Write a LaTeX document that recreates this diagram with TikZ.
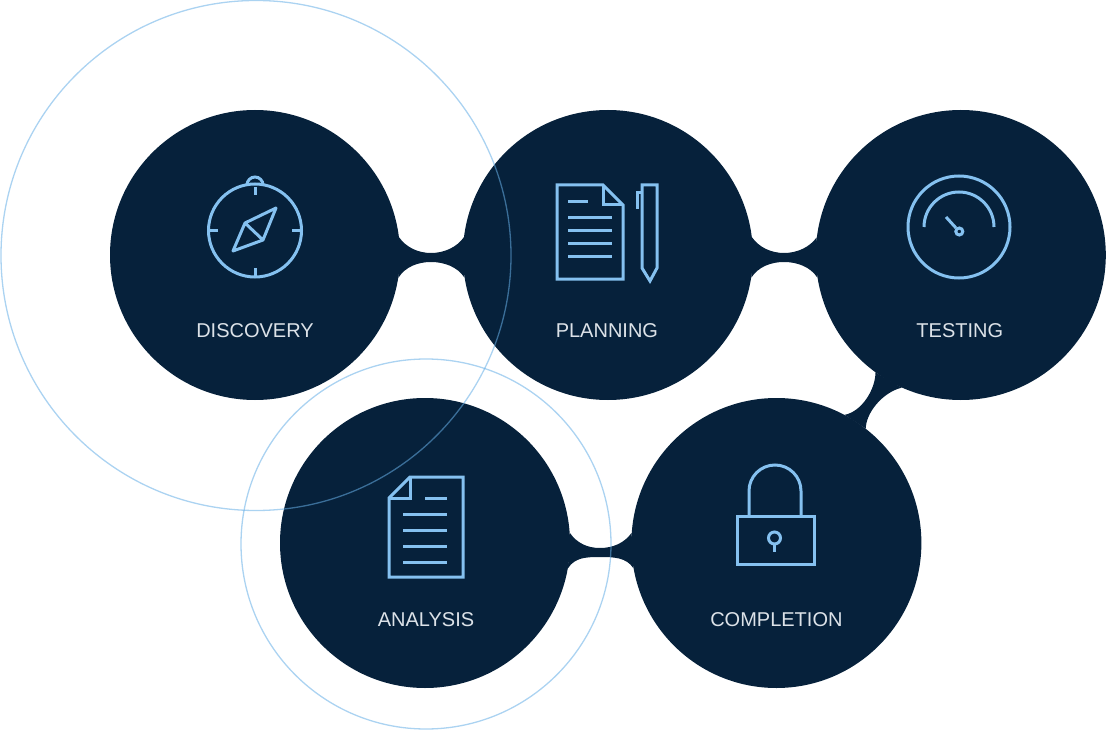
\documentclass[tikz,border=0pt]{standalone}
\usepackage{fontspec}
\setmainfont{Liberation Sans}
\usepackage{xcolor}
\usetikzlibrary{positioning}
\definecolor{stagenavy}{HTML}{06213B}
\definecolor{iconblue}{HTML}{85C1F0}
\definecolor{ringblue}{HTML}{66AEE6}
\definecolor{captiongrey}{HTML}{DCE2E8}

\begin{document}
\begin{tikzpicture}[
    x=1pt, y=-1pt,
    stage/.style={circle, fill=stagenavy, minimum size=290pt, inner sep=0pt},
    bridge/.style={fill=stagenavy},
    ring/.style={circle, draw=ringblue, draw opacity=0.55, line width=1.3pt, inner sep=0pt},
    icon/.style={draw=iconblue, line width=3pt, line join=miter},
    caption/.style={text=captiongrey, font=\fontsize{20}{24}\selectfont, inner sep=0pt}
]
\useasboundingbox (0,0) rectangle (1106,730);

% Stages
\node[stage] (discovery) at (255,255) {};
\node[stage, right=62.5pt of discovery] (planning) {};
\node[stage, right=62.5pt of planning] (testing) {};
\node[stage] (analysis) at (425,543) {};
\node[stage, right=61pt of analysis] (completion) {};

% Necks between stages
\fill[bridge] (discovery.7) .. controls +(7,10) and +(-13,0) .. (431,253) .. controls +(13,0) and +(-7,10) .. (planning.173)
    -- (planning.189) .. controls +(-7,-11) and +(13,0) .. (431,262) .. controls +(-13,0) and +(7,-11) .. (discovery.351) -- cycle;
\fill[bridge] (planning.7) .. controls +(7,10) and +(-13,0) .. (784,253) .. controls +(13,0) and +(-7,10) .. (testing.173)
    -- (testing.189) .. controls +(-7,-11) and +(13,0) .. (784,262) .. controls +(-13,0) and +(7,-11) .. (planning.351) -- cycle;
\fill[bridge] (analysis.4) .. controls +(7,10) and +(-13,0) .. (600,548) .. controls +(13,0) and +(-7,10) .. (completion.176)
    -- (completion.190) .. controls +(-7,-11) and +(13,0) .. (600,557) .. controls +(-13,0) and +(7,-11) .. (analysis.350) -- cycle;
\fill[bridge] (testing.234) .. controls +(0,17) and +(17,-3) .. (completion.62)
    -- (completion.52) .. controls +(0,-15) and +(-20,5) .. (testing.246) -- cycle;

% Outer rings
\node[ring, minimum size=510pt] (discoveryring) at (256,255.5) {};
\node[ring, minimum size=370pt] (analysisring) at (426,544) {};

% Compass
\draw[icon] (255,230.5) circle[radius=46.5];
\draw[icon] (247,185) arc[start angle=180, end angle=360, radius=8];
\draw[icon] (255,187) -- (255,195);
\draw[icon] (255,268) -- (255,276);
\draw[icon] (210,230.5) -- (218,230.5);
\draw[icon] (292,230.5) -- (300,230.5);
\draw[icon, line join=round] (276,208) -- (245,223) -- (233,251) -- (263,240) -- cycle (245,223) -- (263,240);

% Document and pen
\draw[icon] (557,185) -- (603,185) -- (623,205) -- (623,279) -- (557,279) -- cycle;
\draw[icon] (603,185) -- (603,205) -- (623,205);
\draw[icon] (568,202) -- (588,202);
\foreach \liney in {218,231,244,257}
    \draw[icon] (568,\liney) -- (612,\liney);
\draw[icon] (642,185) -- (657,185) -- (657,268) -- (650,281) -- (642,268) -- cycle;
\draw[icon] (642,193) -- (637,193) -- (637,209);

% Gauge
\draw[icon] (959,227) circle[radius=51];
\draw[icon] (924,227) arc[start angle=180, end angle=360, radius=35];
\draw[icon] (946,217) -- (956,228);
\draw[icon] (959.3,231.5) circle[radius=3.5];

% Document
\draw[icon] (410,477) -- (463,477) -- (463,577) -- (389,577) -- (389,498) -- cycle;
\draw[icon] (410,477) -- (410,498) -- (389,498);
\draw[icon] (425,498) -- (447,498);
\foreach \liney in {514,530,546,562}
    \draw[icon] (403,\liney) -- (447,\liney);

% Lock
\draw[icon] (737,516) rectangle (814,564);
\draw[icon] (749,516) -- (749,491) arc[start angle=180, end angle=360, radius=26] -- (801,516);
\draw[icon] (774.5,538) circle[radius=6];
\draw[icon] (774.5,544) -- (774.5,552);

% Captions
\node[caption] (discoverytext) at ([yshift=-76pt]discovery) {DISCOVERY};
\node[caption] (planningtext) at ([xshift=-1pt, yshift=-76pt]planning) {PLANNING};
\node[caption] (testingtext) at ([xshift=-1pt, yshift=-76pt]testing) {TESTING};
\node[caption] (analysistext) at ([xshift=1pt, yshift=-77pt]analysis) {ANALYSIS};
\node[caption] (completiontext) at ([yshift=-77pt]completion) {COMPLETION};

\end{tikzpicture}
\end{document}
